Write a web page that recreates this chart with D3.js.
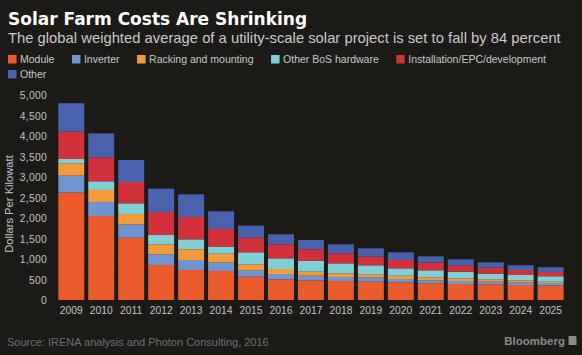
<!DOCTYPE html>
<html>
<head>
<meta charset="utf-8">
<script src="https://cdn.jsdelivr.net/npm/d3@7"></script>
<style>
  html, body { margin: 0; padding: 0; background: #1b1a17; }
  svg { display: block; }
</style>
</head>
<body>
<svg id="chart" width="582" height="355"></svg>
<script>
// ---- data ----
const years = ["2009","2010","2011","2012","2013","2014","2015","2016","2017","2018","2019","2020","2021","2022","2023","2024","2025"];
const seriesNames = ["Module","Inverter","Racking and mounting","Other BoS hardware","Installation/EPC/development","Other"];
const module_    = [2626,2050,1520, 854, 732, 707, 569, 504, 480, 463, 447, 431, 407, 390, 382, 366, 350];
const inverter   = [ 407, 340, 326, 260, 244, 212, 155, 130, 113,  98, 106,  81,  73,  73,  65,  65,  65];
const racking    = [ 300, 295, 252, 244, 260, 211, 146, 122,  98,  89,  73,  81,  73,  65,  57,  49,  32];
const otherBoS   = [ 106, 210, 260, 227, 244, 171, 293, 260, 268, 244, 220, 179, 171, 163, 138, 130, 132];
const install    = [ 666, 585, 520, 561, 544, 431, 357, 342, 277, 244, 211, 204, 187, 155, 147, 122, 106];
const other      = [ 695, 585, 537, 569, 553, 431, 293, 244, 227, 220, 203, 187, 154, 146, 130, 114, 114];
const yTicks = [0,500,1000,1500,2000,2500,3000,3500,4000,4500,5000];
const colors = ["#ea5a2b","#7094d0","#f29b3a","#80d0d6","#d2303b","#4a62ad"];

const svg = d3.select("#chart");
const W = 582, H = 355;
svg.append("rect").attr("width", W).attr("height", H).attr("fill", "#1b1a17");

// titles
svg.append("text").attr("x", 8).attr("y", 25)
  .attr("font-family", "DejaVu Sans").attr("font-weight", "bold").attr("font-size", 17)
  .attr("fill", "#ffffff").text("Solar Farm Costs Are Shrinking");
svg.append("text").attr("x", 8).attr("y", 43)
  .attr("font-family", "Liberation Sans").attr("font-size", 14.8)
  .attr("fill", "#c9c9c9")
  .text("The global weighted average of a utility-scale solar project is set to fall by 84 percent");

// legend
const legFont = 10.5;
const leg = svg.append("g");
let lx = 8, ly = 55;
seriesNames.forEach((name, i) => {
  if (i === 5) { lx = 8; ly = 70; }
  const g = leg.append("g").attr("transform", `translate(${lx},${ly})`);
  g.append("rect").attr("width", 8.5).attr("height", 8.5).attr("fill", colors[i]);
  const t = g.append("text").attr("x", 12).attr("y", 8.3)
    .attr("font-family", "Liberation Sans").attr("font-size", legFont)
    .attr("fill", "#c8c8c8").text(name);
  lx += 12 + t.node().getComputedTextLength() + 17.5;
});

// scales
const x = d3.scaleBand().domain(years).range([56.3, 565.6]).paddingInner(0.133).paddingOuter(0.0667);
const y = d3.scaleLinear().domain([0, 5000]).range([300, 95]);

// gridlines
svg.append("g").selectAll("line").data(yTicks.slice(1)).join("line")
  .attr("x1", 54).attr("x2", 570)
  .attr("y1", d => y(d)).attr("y2", d => y(d))
  .attr("stroke", "#252320").attr("stroke-width", 0.7);

// stacked data
const table = years.map((yr, i) => ({
  year: yr,
  "Module": module_[i], "Inverter": inverter[i], "Racking and mounting": racking[i],
  "Other BoS hardware": otherBoS[i], "Installation/EPC/development": install[i], "Other": other[i]
}));
const stack = d3.stack().keys(seriesNames)(table);

svg.append("g").selectAll("g").data(stack).join("g")
  .attr("fill", (d, i) => colors[i])
  .selectAll("rect").data(d => d).join("rect")
  .attr("x", d => x(d.data.year))
  .attr("width", x.bandwidth())
  .attr("y", d => y(d[1]))
  .attr("height", d => y(d[0]) - y(d[1]));

// y axis
const yAxis = d3.axisLeft(y).tickValues(yTicks).tickFormat(d3.format(",")).tickSize(0).tickPadding(0);
const ya = svg.append("g").attr("transform", "translate(47,0)").call(yAxis);
ya.select(".domain").remove();
ya.selectAll("text").attr("font-family", "Liberation Sans").attr("font-size", 10.3)
  .attr("fill", "#c4c4c4").attr("dy", "0.35em").attr("letter-spacing", 0.3);

svg.append("text")
  .attr("transform", "translate(12.5,204) rotate(-90)")
  .attr("text-anchor", "middle")
  .attr("font-family", "Liberation Sans").attr("font-size", 11.2)
  .attr("fill", "#c4c4c4").text("Dollars Per Kilowatt");

// x axis
const xAxis = d3.axisBottom(x).tickSize(0).tickPadding(0);
const xa = svg.append("g").attr("transform", "translate(0,307)").call(xAxis);
xa.select(".domain").remove();
xa.selectAll("text").attr("font-family", "Liberation Sans").attr("font-size", 10.3)
  .attr("fill", "#c4c4c4").attr("dy", "0.71em");

// footer
svg.append("text").attr("x", 7).attr("y", 346)
  .attr("font-family", "Liberation Sans").attr("font-size", 11)
  .attr("fill", "#707070").text("Source: IRENA analysis and Photon Consulting, 2016");
svg.append("text").attr("x", 565).attr("y", 345).attr("text-anchor", "end")
  .attr("font-family", "Liberation Sans").attr("font-weight", "bold").attr("font-size", 11.5)
  .attr("fill", "#8a8a8a").text("Bloomberg");
svg.append("rect").attr("x", 568.5).attr("y", 336).attr("width", 8).attr("height", 9)
  .attr("rx", 1).attr("fill", "#8a8a8a");
</script>
</body>
</html>
